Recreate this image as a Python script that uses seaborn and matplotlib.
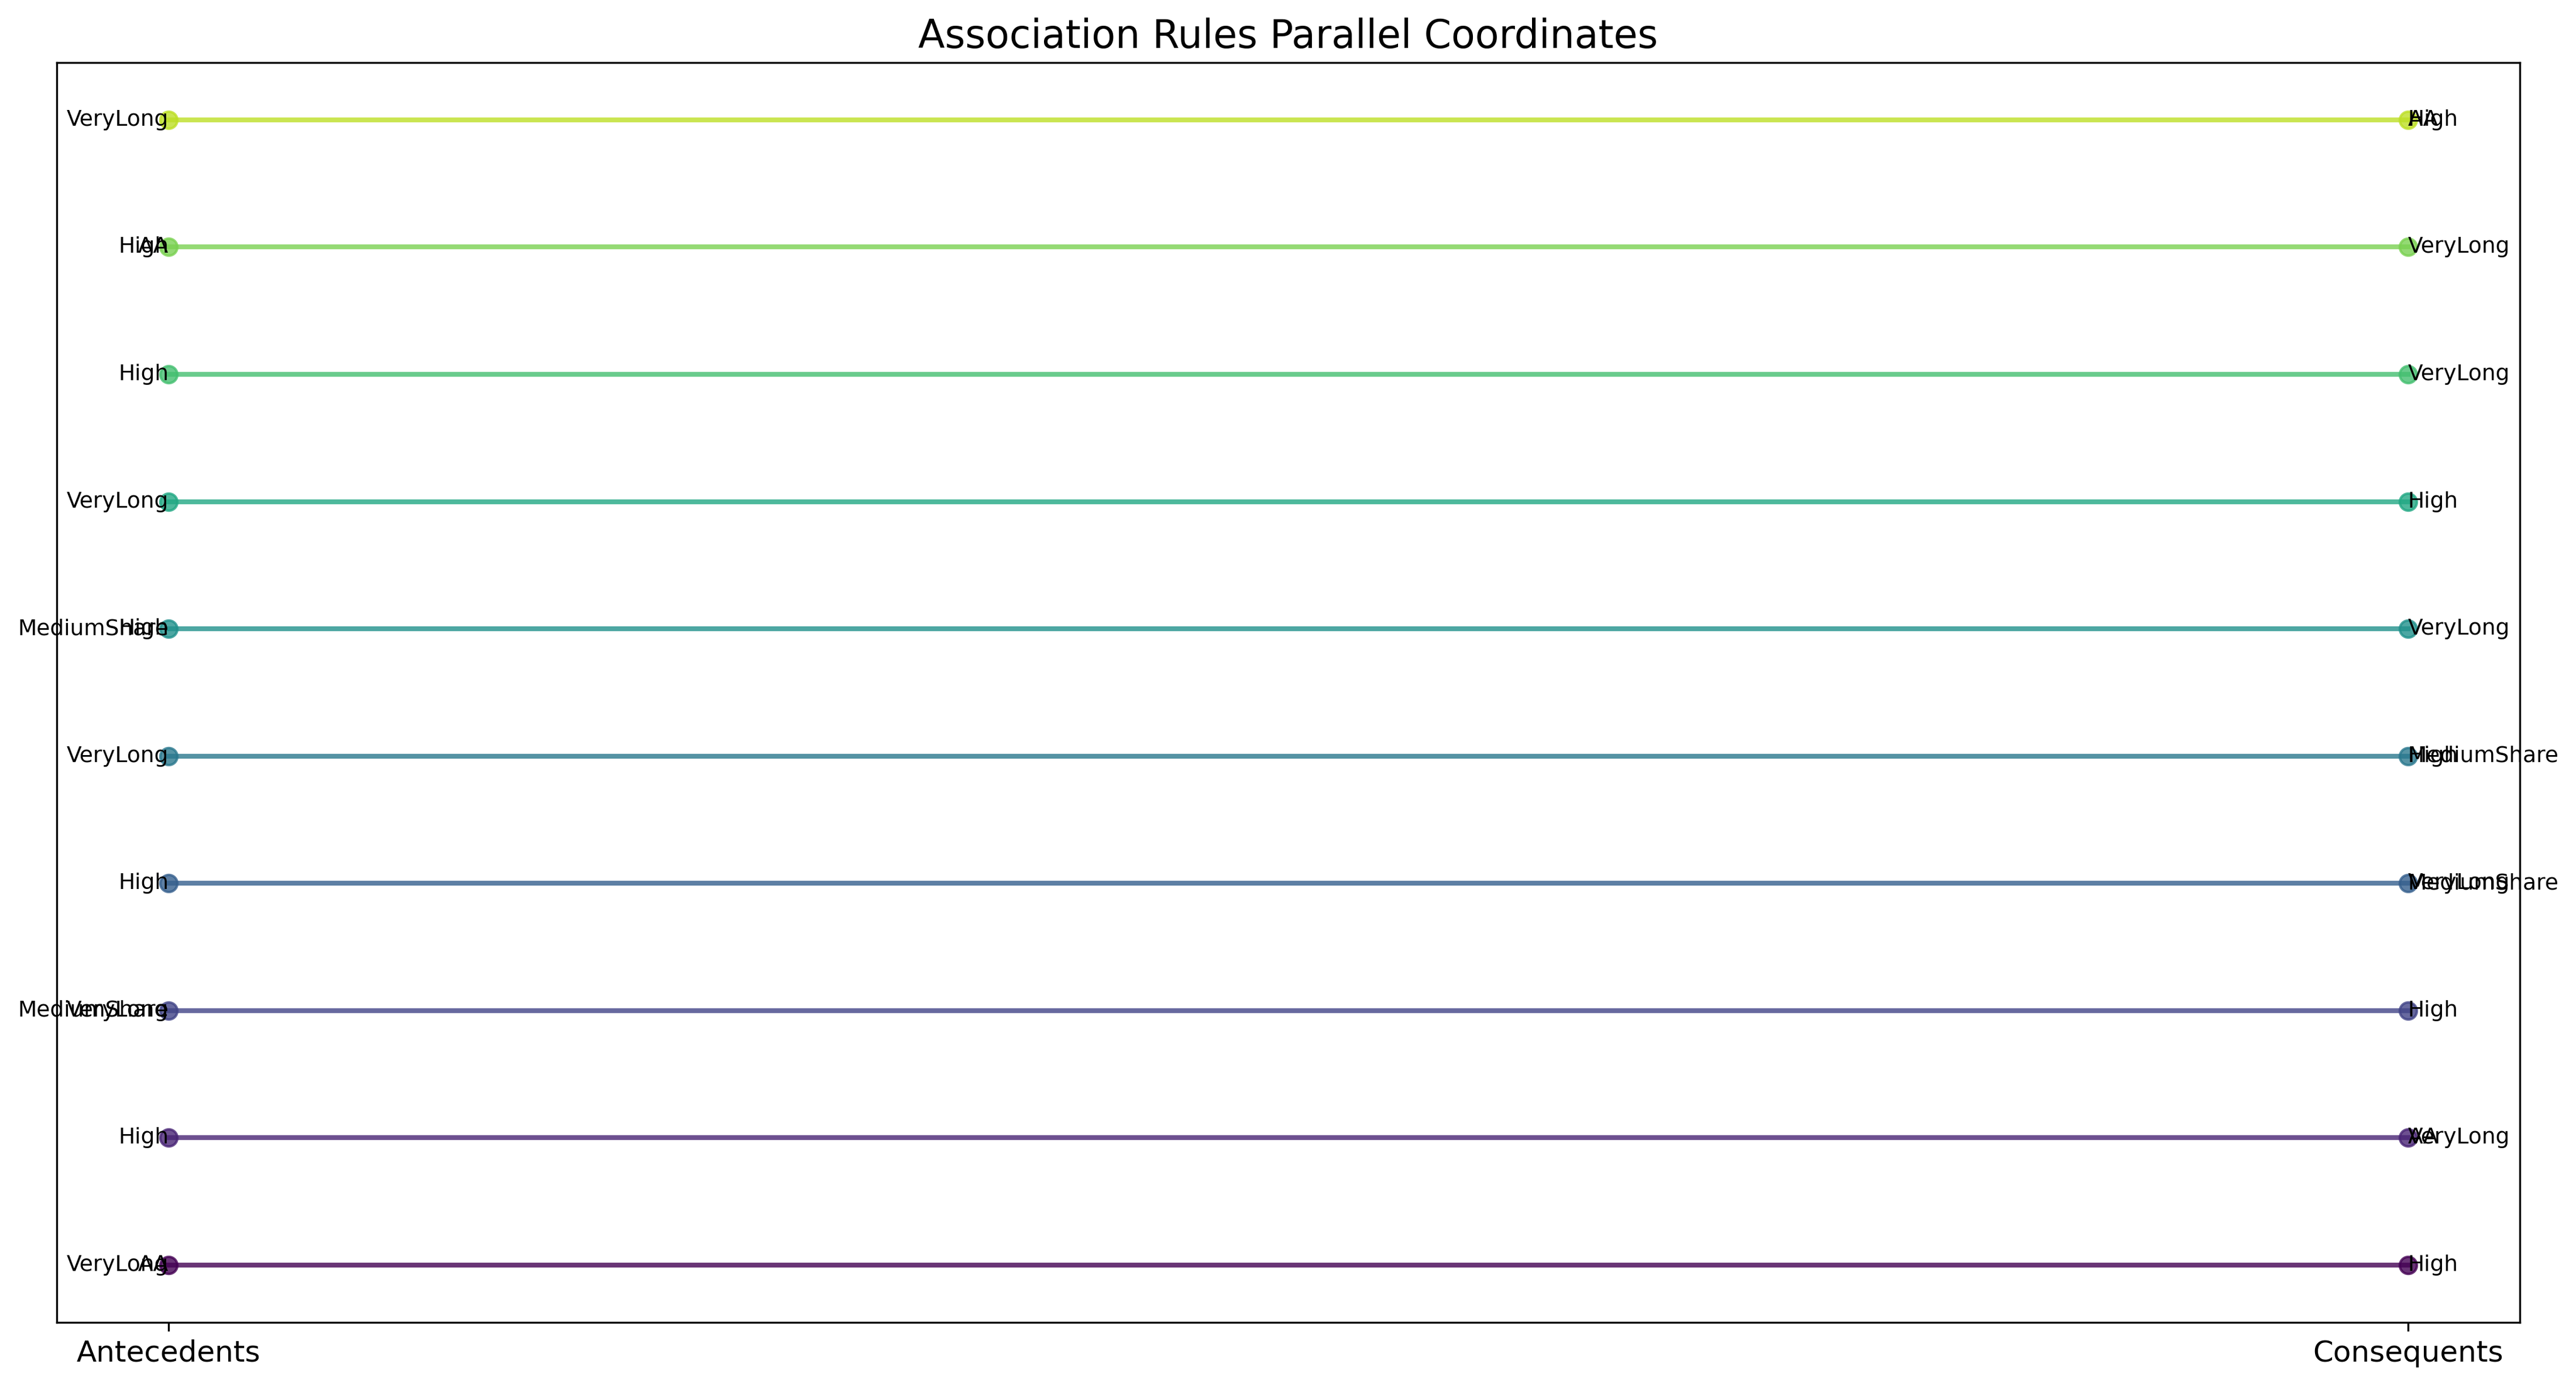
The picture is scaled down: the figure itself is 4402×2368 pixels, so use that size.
import numpy as np
import pandas as pd
import seaborn as sns
import matplotlib
matplotlib.use("Agg")
import matplotlib.pyplot as plt

# rules, bottom (0) to top (9)
antecedents = [
    ["VeryLong", "AA"],
    ["High"],
    ["MediumShare", "VeryLong"],
    ["High"],
    ["VeryLong"],
    ["MediumShare", "High"],
    ["VeryLong"],
    ["High"],
    ["High", "AA"],
    ["VeryLong"],
]
consequents = [
    ["High"],
    ["AA", "VeryLong"],
    ["High"],
    ["VeryLong", "MediumShare"],
    ["High", "MediumShare"],
    ["VeryLong"],
    ["High"],
    ["VeryLong"],
    ["VeryLong"],
    ["AA", "High"],
]
axis_labels = ["Antecedents", "Consequents"]

n_rules = len(antecedents)
colors = [plt.cm.viridis(i / n_rules) for i in range(n_rules)]

# long-form table: one row per rule end
rows = []
for i in range(n_rules):
    rows.append({"rule": i, "pos": 0, "y": i})
    rows.append({"rule": i, "pos": 1, "y": i})
df = pd.DataFrame(rows)

fig, ax = plt.subplots(figsize=(15, 8))
sns.lineplot(data=df, x="pos", y="y", hue="rule", units="rule", estimator=None,
             palette=colors, marker="o", markersize=7, markeredgewidth=1,
             markeredgecolor="auto", linewidth=2, alpha=0.8, legend=False, ax=ax)

for i in range(n_rules):
    for item in antecedents[i]:
        ax.text(0, i, item, ha="right", va="center", fontsize=9)
    for item in consequents[i]:
        ax.text(1, i, item, ha="left", va="center", fontsize=9)

ax.set_xticks([0, 1])
ax.set_xticklabels(axis_labels, fontsize=12)
ax.set_yticks([])
ax.set_xlabel("")
ax.set_ylabel("")
ax.set_title("Association Rules Parallel Coordinates", fontsize=16)
plt.tight_layout()
plt.savefig("out.png", dpi=300, bbox_inches="tight")
